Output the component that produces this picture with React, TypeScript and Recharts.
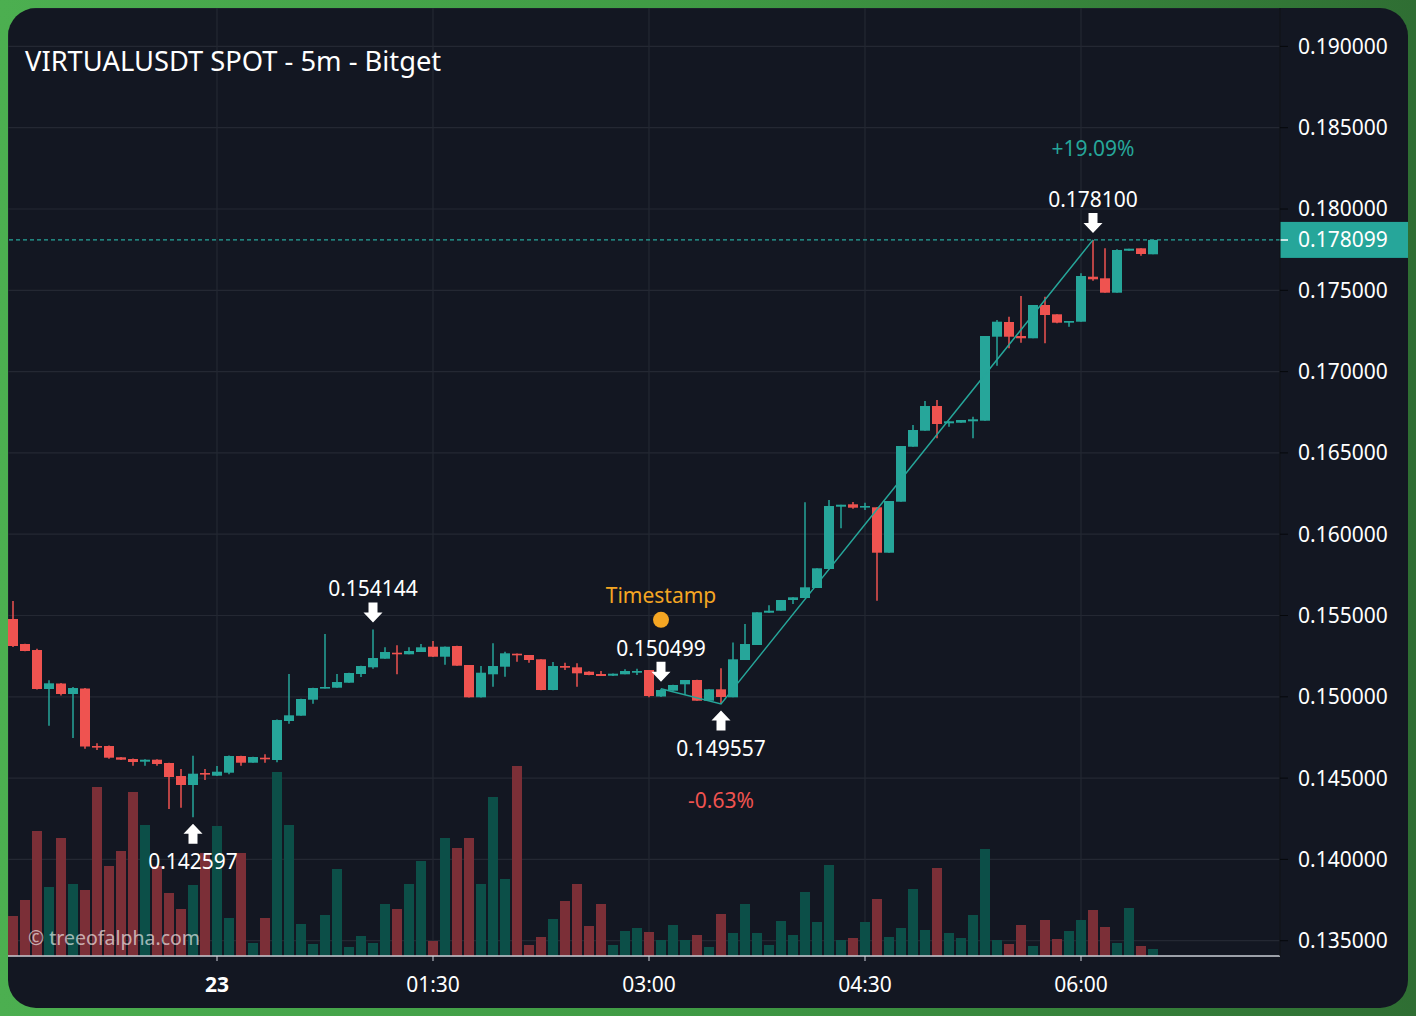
import React from 'react';
import {
  ComposedChart,
  Bar,
  Line,
  XAxis,
  YAxis,
  CartesianGrid,
  ReferenceLine,
  ReferenceDot,
} from 'recharts';

// ---------- data (5m candles, 22:35 -> 06:30) ----------
const opens = [
  0.154785, 0.153247, 0.152878, 0.15048, 0.150818, 0.150172, 0.15051, 0.146974, 0.146974, 0.146279,
  0.146175, 0.146009, 0.146132, 0.145929, 0.145129, 0.144576, 0.145314, 0.145148, 0.145332, 0.146359,
  0.145947, 0.146255, 0.146113, 0.148512, 0.148838, 0.149822, 0.150523, 0.15056, 0.150867, 0.151402,
  0.151814, 0.152343, 0.152712, 0.152614, 0.152755, 0.153081, 0.152466, 0.153124, 0.151956, 0.149969,
  0.151384, 0.151851, 0.152651, 0.152571, 0.152306, 0.150418, 0.151894, 0.151814, 0.151544, 0.151402,
  0.151298, 0.151384, 0.151482, 0.151648, 0.150018, 0.150375, 0.150769, 0.151033, 0.14976, 0.150461,
  0.149969, 0.152263, 0.153186, 0.155172, 0.155295, 0.155953, 0.156076, 0.156691, 0.15786, 0.161691,
  0.161839, 0.161654, 0.161654, 0.158862, 0.161999, 0.165381, 0.166365, 0.167884, 0.16682, 0.166857,
  0.166943, 0.16698, 0.172146, 0.17305, 0.172189, 0.172048, 0.174096, 0.173524, 0.173007, 0.173069,
  0.175836, 0.175738, 0.174852, 0.177435, 0.177583, 0.177214,
];
const highs = [
  0.155892, 0.153266, 0.152958, 0.151015, 0.150849, 0.150603, 0.150541, 0.14714, 0.147005, 0.146298,
  0.146206, 0.146156, 0.146156, 0.145947, 0.14556, 0.146378, 0.14556, 0.145744, 0.14639, 0.146378,
  0.146316, 0.146464, 0.148604, 0.151402, 0.149883, 0.15056, 0.153862, 0.151402, 0.151482, 0.151913,
  0.154144, 0.153044, 0.153167, 0.153044, 0.153247, 0.153432, 0.153094, 0.153143, 0.151956, 0.151894,
  0.15329, 0.152774, 0.152663, 0.152571, 0.152306, 0.15214, 0.152097, 0.15206, 0.151568, 0.151587,
  0.151433, 0.151691, 0.151728, 0.151648, 0.150499, 0.150744, 0.151033, 0.151052, 0.150461, 0.151753,
  0.153339, 0.154477, 0.155197, 0.155627, 0.155953, 0.156119, 0.161962, 0.157903, 0.162103, 0.161814,
  0.16198, 0.161937, 0.161654, 0.162042, 0.165424, 0.166716, 0.168192, 0.168253, 0.166943, 0.167023,
  0.167226, 0.172189, 0.173173, 0.173376, 0.174649, 0.174096, 0.174606, 0.173524, 0.173112, 0.176045,
  0.1781, 0.177583, 0.177521, 0.177558, 0.177583, 0.178099,
];
const lows = [
  0.153063, 0.152798, 0.150449, 0.148223, 0.15008, 0.147466, 0.146808, 0.146728, 0.146193, 0.146113,
  0.145763, 0.145763, 0.145763, 0.1431, 0.14318, 0.142597, 0.144883, 0.145129, 0.145234, 0.145763,
  0.145947, 0.145947, 0.145972, 0.148346, 0.148838, 0.149576, 0.15051, 0.15056, 0.150867, 0.151218,
  0.151728, 0.152343, 0.151384, 0.152614, 0.152755, 0.152448, 0.151974, 0.151913, 0.149957, 0.149957,
  0.150621, 0.151236, 0.152159, 0.152097, 0.1504, 0.1504, 0.151648, 0.150621, 0.151322, 0.151279,
  0.151285, 0.151384, 0.151341, 0.149969, 0.149988, 0.150375, 0.150111, 0.14976, 0.14976, 0.149557,
  0.149969, 0.152263, 0.153186, 0.155172, 0.155295, 0.155707, 0.156076, 0.156691, 0.15786, 0.160363,
  0.161568, 0.161488, 0.15591, 0.158862, 0.161999, 0.165381, 0.166365, 0.165898, 0.166611, 0.166857,
  0.165898, 0.16698, 0.170363, 0.171433, 0.171777, 0.172048, 0.17174, 0.17297, 0.172761, 0.173069,
  0.17559, 0.174852, 0.174852, 0.177435, 0.177128, 0.177214,
];
const closes = [
  0.153124, 0.152817, 0.15048, 0.15083, 0.150172, 0.150541, 0.146943, 0.146894, 0.146255, 0.146132,
  0.14599, 0.146132, 0.145867, 0.145068, 0.144576, 0.145271, 0.145234, 0.145394, 0.146359, 0.145947,
  0.146298, 0.146156, 0.148573, 0.148862, 0.149865, 0.150541, 0.150603, 0.15091, 0.151464, 0.151894,
  0.152386, 0.152755, 0.152614, 0.152817, 0.153044, 0.152466, 0.153081, 0.151913, 0.149969, 0.151482,
  0.151894, 0.152675, 0.152552, 0.152263, 0.150418, 0.151894, 0.15179, 0.151445, 0.151341, 0.151279,
  0.151421, 0.151587, 0.151587, 0.150049, 0.150418, 0.150726, 0.151033, 0.14976, 0.150461, 0.149988,
  0.152306, 0.153247, 0.155197, 0.155295, 0.155953, 0.156119, 0.156734, 0.157903, 0.161734, 0.161814,
  0.16163, 0.161734, 0.158862, 0.162042, 0.165424, 0.166408, 0.167884, 0.166777, 0.166943, 0.167023,
  0.167066, 0.172189, 0.173069, 0.172146, 0.172048, 0.174096, 0.17348, 0.173007, 0.173112, 0.175879,
  0.175676, 0.174852, 0.177478, 0.177558, 0.177232, 0.178099,
];
// volume (thousand VIRTUAL)
const volumes = [
  40, 56, 125, 69, 118, 72, 66, 169, 90, 105,
  164, 131, 90, 63, 47, 71, 103, 130, 38, 103,
  13, 38, 184, 131, 32, 12, 41, 87, 9, 20,
  13, 52, 47, 72, 95, 15, 118, 108, 118, 72,
  159, 77, 190, 11, 19, 37, 55, 72, 30, 52,
  11, 25, 28, 24, 16, 31, 16, 21, 9, 42,
  23, 52, 23, 11, 35, 21, 64, 34, 91, 16,
  18, 34, 57, 19, 28, 67, 26, 88, 23, 18,
  41, 107, 16, 12, 31, 10, 36, 17, 25, 36,
  46, 29, 13, 48, 10, 7,
];

const timeTicks = [17, 35, 53, 71, 89];
const timeLabels = ['23', '01:30', '03:00', '04:30', '06:00'];
const priceTicks = [0.135, 0.14, 0.145, 0.15, 0.155, 0.16, 0.165, 0.17, 0.175, 0.18, 0.185, 0.19];

// zig-zag swing line
const zigIdx = [54, 59, 90];
const zigPrice = [0.150499, 0.149557, 0.1781];

// swing labels
const markIdx = [30, 54, 90, 15, 59];
const markPrice = [0.154144, 0.150499, 0.1781, 0.142597, 0.149557];
const markSide = ['above', 'above', 'above', 'below', 'below'];
const markPct = ['', '', '+19.09%', '', '-0.63%'];

const stampIdx = 54;
const stampPrice = 0.154736;
const lastPrice = 0.178099;

const title = 'VIRTUALUSDT SPOT - 5m - Bitget';

// ---------- styling ----------
const FONT = "'Noto Sans', sans-serif";
const UP = '#26a69a';
const DOWN = '#ef5350';
const VOL_UP = '#0c4f48';
const VOL_DOWN = '#7b2f37';
const ORANGE = '#f5a623';
const BG = '#131722';
const GRID = '#242833';

const data = opens.map((o, i) => {
  const z = zigIdx.indexOf(i);
  return {
    i,
    open: o,
    high: highs[i],
    low: lows[i],
    close: closes[i],
    vol: volumes[i],
    range: [lows[i], highs[i]],
    zig: z >= 0 ? zigPrice[z] : null,
  };
});

const Candle = (props: any) => {
  const { x, y, width, height, payload } = props;
  if (x == null || y == null || !payload) return null;
  const top = Math.min(y, y + height);
  const bot = Math.max(y, y + height);
  const span = payload.high - payload.low;
  const yOf = (p: number) => (span > 0 ? top + ((payload.high - p) / span) * (bot - top) : top);
  const up = payload.close >= payload.open;
  const color = up ? UP : DOWN;
  const cx = x + width / 2;
  const bTop = yOf(Math.max(payload.open, payload.close));
  const bBot = yOf(Math.min(payload.open, payload.close));
  const bh = Math.max(bBot - bTop, 1.6);
  return (
    <g>
      <line x1={cx} x2={cx} y1={top} y2={bot} stroke={color} strokeWidth={1.5} />
      <rect x={x} y={bTop} width={width} height={bh} fill={color} />
    </g>
  );
};

const VolBar = (props: any) => {
  const { x, y, width, height, payload } = props;
  if (x == null || !payload) return null;
  const up = payload.close >= payload.open;
  return <rect x={x} y={Math.min(y, y + height)} width={width} height={Math.abs(height)} fill={up ? VOL_UP : VOL_DOWN} />;
};

const arrowPath = (cx: number, tipY: number, dir: number) => {
  // dir = 1 : pointing down (tip at bottom), dir = -1 : pointing up
  const s = dir;
  const p = [
    [cx - 4.5, tipY - 20 * s],
    [cx + 4.5, tipY - 20 * s],
    [cx + 4.5, tipY - 10 * s],
    [cx + 9.5, tipY - 10 * s],
    [cx, tipY],
    [cx - 9.5, tipY - 10 * s],
    [cx - 4.5, tipY - 10 * s],
  ];
  return 'M' + p.map((q) => q[0] + ',' + q[1]).join(' L') + ' Z';
};

const makeMarker = (k: number) => (props: any) => {
  const { cx, cy } = props;
  if (cx == null || cy == null) return null;
  const above = markSide[k] === 'above';
  const txt = markPrice[k].toFixed(6);
  const pct = markPct[k];
  const pctColor = pct.startsWith('-') ? DOWN : UP;
  if (above) {
    const tip = cy - 7;
    return (
      <g>
        <path d={arrowPath(cx, tip, 1)} fill="#ffffff" />
        <text x={cx} y={cy - 33} textAnchor="middle" fill="#ffffff" fontSize={21} fontFamily={FONT}>
          {txt}
        </text>
        {pct ? (
          <text x={cx} y={cy - 84} textAnchor="middle" fill={pctColor} fontSize={21} fontFamily={FONT}>
            {pct}
          </text>
        ) : null}
      </g>
    );
  }
  const tip = cy + 6.5;
  return (
    <g>
      <path d={arrowPath(cx, tip, -1)} fill="#ffffff" />
      <text x={cx} y={cy + 51.5} textAnchor="middle" fill="#ffffff" fontSize={21} fontFamily={FONT}>
        {txt}
      </text>
      {pct ? (
        <text x={cx} y={cy + 103.5} textAnchor="middle" fill={pctColor} fontSize={21} fontFamily={FONT}>
          {pct}
        </text>
      ) : null}
    </g>
  );
};

const StampMarker = (props: any) => {
  const { cx, cy } = props;
  if (cx == null || cy == null) return null;
  return (
    <g>
      <circle cx={cx} cy={cy} r={8} fill={ORANGE} />
      <text x={cx} y={cy - 17} textAnchor="middle" fill={ORANGE} fontSize={21} fontFamily={FONT}>
        Timestamp
      </text>
    </g>
  );
};

const PriceTag = (props: any) => {
  const vb = props.viewBox || {};
  const right = (vb.x ?? 0) + (vb.width ?? 0);
  const y = vb.y ?? 0;
  return (
    <g>
      <rect x={right} y={y - 18} width={128} height={36} fill={UP} />
      <line x1={right} x2={right + 8} y1={y} y2={y} stroke="#ffffff" strokeWidth={1.5} />
      <text x={right + 18} y={y} dy="0.355em" fill="#ffffff" fontSize={21} fontFamily={FONT}>
        {lastPrice.toFixed(6)}
      </text>
    </g>
  );
};

const TimeTick = (props: any) => {
  const { x, y, payload } = props;
  const k = timeTicks.indexOf(payload?.value);
  const label = k >= 0 ? timeLabels[k] : '';
  return (
    <text
      x={x}
      y={y}
      dy="0.71em"
      textAnchor="middle"
      fill="#ffffff"
      fontSize={21}
      fontFamily={FONT}
      fontWeight={k === 0 ? 700 : 400}
    >
      {label}
    </text>
  );
};

export default function App() {
  return (
    <div
      style={{
        position: 'fixed',
        left: 0,
        top: 0,
        width: 1416,
        height: 1016,
        background: 'linear-gradient(90deg, #4caf50 0%, #3f9a44 50%, #2f6e33 100%)',
      }}
    >
      <div
        style={{
          position: 'absolute',
          left: 8,
          top: 8,
          width: 1400,
          height: 1000,
          borderRadius: 28,
          overflow: 'hidden',
          background: BG,
          fontFamily: FONT,
        }}
      >
        <ComposedChart width={1400} height={1000} data={data} margin={{ top: 0, right: 0, bottom: 0, left: 0 }}>
          <CartesianGrid stroke={GRID} strokeWidth={1.2} />
          <XAxis
            type="number"
            dataKey="i"
            domain={[-0.4167, 105.5833]}
            allowDataOverflow
            ticks={timeTicks}
            interval={0}
            height={52}
            tickSize={5}
            tickMargin={16}
            axisLine={{ stroke: '#c9ccd3', strokeWidth: 1.3 }}
            tickLine={{ stroke: '#d1d4dc' }}
            tick={<TimeTick />}
          />
          <XAxis xAxisId="v" type="number" dataKey="i" domain={[-0.4167, 105.5833]} allowDataOverflow hide />
          <YAxis
            orientation="right"
            type="number"
            domain={[0.13406, 0.192361]}
            allowDataOverflow
            ticks={priceTicks}
            interval={0}
            width={128}
            tickSize={8}
            tickMargin={10}
            axisLine={{ stroke: '#06080c' }}
            tickLine={{ stroke: '#06080c' }}
            tickFormatter={(v: number) => v.toFixed(6)}
            tick={{ fill: '#ffffff', fontSize: 21, fontFamily: FONT }}
          />
          <YAxis yAxisId="v" type="number" domain={[0, 948]} allowDataOverflow hide />
          <Bar
            xAxisId="v"
            yAxisId="v"
            dataKey="vol"
            barSize={10}
            shape={<VolBar />}
            isAnimationActive={false}
          />
          <Bar dataKey="range" barSize={10} shape={<Candle />} isAnimationActive={false} />
          <Line
            dataKey="zig"
            connectNulls
            dot={false}
            activeDot={false}
            stroke={UP}
            strokeWidth={1.5}
            isAnimationActive={false}
          />
          <ReferenceLine y={lastPrice} stroke={UP} strokeWidth={1.3} strokeDasharray="4 3" label={<PriceTag />} />
          <ReferenceDot x={stampIdx} y={stampPrice} r={8} shape={<StampMarker />} />
          {markIdx.map((mi, k) => (
            <ReferenceDot key={k} x={mi} y={markPrice[k]} r={4} shape={makeMarker(k)} />
          ))}
        </ComposedChart>
        <div
          style={{
            position: 'absolute',
            left: 17,
            top: 39,
            fontSize: 27.3,
            lineHeight: '27px',
            color: '#ffffff',
            whiteSpace: 'nowrap',
            pointerEvents: 'none',
          }}
        >
          {title}
        </div>
        <div
          style={{
            position: 'absolute',
            left: 20,
            top: 920,
            fontSize: 19.5,
            lineHeight: '19.5px',
            color: 'rgba(255,255,255,0.62)',
            whiteSpace: 'nowrap',
            pointerEvents: 'none',
          }}
        >
          © treeofalpha.com
        </div>
      </div>
    </div>
  );
}
